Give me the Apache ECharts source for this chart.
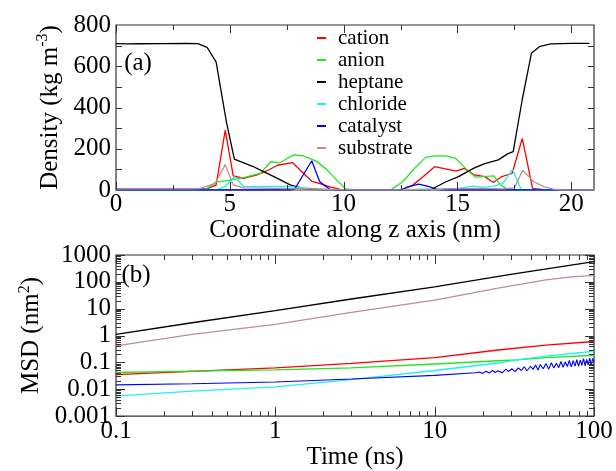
<!DOCTYPE html>
<html>
<head>
<meta charset="UTF-8">
<title>density and MSD</title>
<script src="https://cdn.jsdelivr.net/npm/echarts@6/dist/echarts.min.js"></script>
<style>
  html, body { margin: 0; padding: 0; background: #fff; }
  #main { width: 616px; height: 471px; }
</style>
</head>
<body>
<div id="main"></div>
<script type="text/javascript">
// (a) density profiles, [z (nm), density (kg m^-3)]
var cation = [[0,5],[4.0,5],[4.4,25],[4.8,290],[5.15,68],[5.6,57],[6.2,73],[6.7,97],[7.1,120],[7.75,133],[8.2,85],[8.6,42],[9.0,30],[9.4,15],[9.9,2],[10.5,0],[12.5,0],[13.0,20],[13.5,65],[14.0,113],[14.95,92],[15.3,105],[15.75,73],[16.2,65],[16.58,36],[16.95,65],[17.4,80],[17.85,250],[18.3,8],[18.8,2],[21,0]];
var anion = [[0,0],[3.9,0],[4.0,8],[4.42,38],[5.0,48],[5.7,62],[6.35,82],[6.8,137],[7.2,132],[7.8,170],[8.2,167],[8.8,140],[9.25,100],[9.7,48],[10.1,5],[10.5,0],[11.8,0],[12.1,3],[12.6,40],[13.05,97],[13.6,158],[14.0,165],[14.5,165],[14.9,155],[15.4,100],[15.8,62],[16.6,68],[16.9,24],[17.2,3],[17.5,0],[21,0]];
var heptane = [[0,710],[0.5,708],[1,709],[2,710],[3,711],[3.6,710],[4.0,692],[4.4,620],[4.85,330],[5.2,150],[6.0,115],[6.6,83],[7.2,50],[7.65,25],[8.2,8],[9,2],[10,0],[13.8,0],[14.5,40],[15.05,65],[15.7,105],[16.2,128],[16.8,146],[17.2,175],[17.45,186],[17.85,440],[18.25,663],[18.6,695],[19.1,708],[20,711],[20.8,711]];
var chloride = [[0,0],[4.4,0],[4.8,18],[5.2,65],[5.6,18],[5.9,16],[6.5,18],[7.0,17],[7.5,18],[8.3,10],[9.0,4],[9.5,0],[12.4,0],[13,3],[14,5],[15,8],[15.7,19],[16.1,13],[16.6,19],[17.0,32],[17.42,100],[17.8,2],[18.2,0],[21,0]];
var catalyst = [[0,0],[7.7,0],[7.85,5],[8.6,142],[8.95,40],[9.4,3],[9.8,0],[12.5,0],[12.85,16],[13.3,28],[13.8,15],[14.1,2],[14.5,0],[21,0]];
var substrate = [[0,5],[3.5,5],[3.7,8],[4.35,32],[4.8,123],[5.15,25],[5.6,10],[7,8],[8.5,6],[9.5,3],[10.5,0],[14,0],[14.5,5],[16,8],[17,5],[17.5,10],[17.87,95],[18.35,40],[18.8,16],[19.2,4],[19.7,0],[21,0]];

// (b) MSD, [time (ns), MSD (nm^2)]
var msdHeptane = [[0.1,1.1],[0.3,3.0],[1,8.5],[3,23],[10,65],[30,190],[100,570]];
var msdSubstrate = [[0.1,0.41],[0.3,1.1],[1,2.6],[3,7.3],[10,21],[25,58],[50,118],[70,150],[100,175]];
var msdCation = [[0.1,0.035],[0.3,0.046],[1,0.062],[3,0.092],[10,0.15],[25,0.29],[50,0.44],[100,0.6]];
var msdAnion = [[0.1,0.042],[0.3,0.047],[1,0.053],[3,0.062],[10,0.087],[25,0.115],[33,0.125],[50,0.15],[100,0.185]];
var msdChloride = [[0.1,0.0055],[0.3,0.0085],[1,0.0123],[3,0.023],[10,0.05],[25,0.095],[33,0.125],[50,0.17],[100,0.26]];
var msdCatalyst = [[0.1,0.0145],[0.3,0.016],[1,0.0187],[3,0.024],[10,0.033],[18,0.041],[19,0.044],[20,0.039],[21,0.047],[22,0.04],[23,0.05],[24,0.042],[25,0.049],[26.5,0.041],[28,0.056],[29,0.046],[30.5,0.058],[32,0.045],[33.5,0.063],[35,0.05],[36.5,0.068],[38,0.049],[40,0.072],[41.5,0.055],[43,0.08],[44.5,0.052],[46,0.083],[48,0.058],[50,0.09],[52,0.056],[54,0.097],[56,0.062],[58,0.093],[60,0.063],[62,0.108],[64,0.066],[66,0.104],[68,0.07],[70,0.118],[72,0.068],[74,0.115],[76,0.073],[78,0.128],[80,0.071],[82,0.122],[84,0.078],[86,0.138],[88,0.074],[90,0.13],[92,0.08],[94,0.145],[96,0.078],[98,0.14],[100,0.1]];

// ticks and labels
var zMajor = [0,5,10,15,20];
var zMinor = [2.5,7.5,12.5,17.5];
var densLabels = [0,200,400,600,800];
var densTicks = [100,200,300,400,500,600,700];
var tMajor = [0.1,1,10,100];
var tMinor = [0.2,0.3,0.4,0.5,0.6,0.7,0.8,0.9,2,3,4,5,6,7,8,9,20,30,40,50,60,70,80,90];
var msdMajor = [0.001,0.01,0.1,1,10,100,1000];
var msdMinor = [];
[0.001,0.01,0.1,1,10,100].forEach(function (d) {
    for (var k = 2; k <= 9; k++) msdMinor.push(+(d * k).toPrecision(3));
});

var FONT = 'Liberation Serif';
var colors = {cation:'#ff0000', anion:'#22e622', heptane:'#000000', chloride:'#22f0f0', catalyst:'#0000ff', substrate:'#bc8f8f'};
var nameStyle = {
    fontFamily: FONT, fontSize: 25, color: '#000',
    rich: {sup: {fontFamily: FONT, fontSize: 16, color: '#000', padding: [0, 0, 14, 0]}}
};

// axis with labels and title only; the frame is the grid border, ticks come from custom series
function labelAxis(grid, type, min, max, values, margin, name, gap) {
    var ax = {
        gridIndex: grid, type: type, min: min, max: max,
        axisLine: {show: false},
        splitLine: {show: false},
        axisTick: {show: false},
        axisLabel: {show: true, customValues: values, margin: margin, fontFamily: FONT, fontSize: 25, color: '#000',
            formatter: function (v) { return String(v); }},
        name: name, nameLocation: 'middle', nameGap: gap, nameTextStyle: nameStyle
    };
    if (type === 'log') ax.logBase = 10;
    return ax;
}

function line(name, data, color, grid, width) {
    return {
        name: name, type: 'line', data: data,
        xAxisIndex: grid, yAxisIndex: grid,
        symbol: 'none', showSymbol: false,
        lineStyle: {color: color, width: width || 1.3},
        itemStyle: {color: color},
        z: 3
    };
}

function snap(p) { return Math.round(p) + 0.5; }
function tickSeg(x1, y1, x2, y2) {
    return {type: 'line', shape: {x1: x1, y1: y1, x2: x2, y2: y2}, style: {stroke: '#333', lineWidth: 1}};
}
// inward ticks on both opposite sides of the frame; dir 'x' => items [value, lo, len], dir 'y' => [lo, value, len]
function tickSeries(grid, dir, values, len, lo, hi) {
    var data = values.map(function (v) { return dir === 'x' ? [v, lo, len] : [lo, v, len]; });
    return {
        type: 'custom', name: 'ticks', silent: true, z: 10,
        xAxisIndex: grid, yAxisIndex: grid,
        encode: {x: 0, y: 1},
        data: data,
        renderItem: function (params, api) {
            var L = api.value(2);
            if (dir === 'x') {
                var v = api.value(0);
                var b = api.coord([v, lo]), t = api.coord([v, hi]);
                var x = snap(b[0]);
                return {type: 'group', children: [tickSeg(x, b[1], x, b[1] - L), tickSeg(x, t[1], x, t[1] + L)]};
            }
            var w = api.value(1);
            var l = api.coord([lo, w]), r = api.coord([hi, w]);
            var y = snap(l[1]);
            return {type: 'group', children: [tickSeg(l[0], y, l[0] + L, y), tickSeg(r[0], y, r[0] - L, y)]};
        }
    };
}

var myChart = echarts.init(document.getElementById('main'), null, {renderer: 'canvas'});
var option = {
    animation: false,
    backgroundColor: '#fff',
    grid: [
        {left: 116, top: 25, width: 478, height: 165, show: true, borderColor: '#333', borderWidth: 1.2, backgroundColor: 'transparent'},
        {left: 116, top: 255, width: 478, height: 165, show: true, borderColor: '#333', borderWidth: 1.2, backgroundColor: 'transparent'}
    ],
    legend: {
        orient: 'vertical', left: 317, top: 27, padding: 0, itemGap: 0,
        itemWidth: 9, itemHeight: 2, icon: 'rect',
        data: ['cation', 'anion', 'heptane', 'chloride', 'catalyst', 'substrate'],
        textStyle: {fontFamily: FONT, fontSize: 21, lineHeight: 22, color: '#000', padding: [0, 0, 0, 7]}
    },
    xAxis: [
        labelAxis(0, 'value', 0, 21, zMajor, 2, 'Coordinate along z axis (nm)', 27),
        labelAxis(1, 'log', 0.1, 100, tMajor, 3, 'Time (ns)', 14)
    ],
    yAxis: [
        labelAxis(0, 'value', 0, 800, densLabels, 5, 'Density (kg m{sup|-3})', 51),
        labelAxis(1, 'log', 0.001, 1000, msdMajor, 5, 'MSD (nm{sup|2})', 68)
    ],
    graphic: [
        {type: 'text', x: 138, y: 63, style: {text: '(a)', font: '25px "Liberation Serif"', fill: '#000', textAlign: 'center', textVerticalAlign: 'middle'}},
        {type: 'text', x: 136, y: 275, style: {text: '(b)', font: '25px "Liberation Serif"', fill: '#000', textAlign: 'center', textVerticalAlign: 'middle'}}
    ],
    series: [
        line('cation', cation, colors.cation, 0),
        line('anion', anion, colors.anion, 0),
        line('heptane', heptane, colors.heptane, 0),
        line('chloride', chloride, colors.chloride, 0),
        line('catalyst', catalyst, colors.catalyst, 0),
        line('substrate', substrate, colors.substrate, 0),
        line('MSD heptane', msdHeptane, colors.heptane, 1),
        line('MSD substrate', msdSubstrate, colors.substrate, 1),
        line('MSD cation', msdCation, colors.cation, 1),
        line('MSD anion', msdAnion, colors.anion, 1),
        line('MSD chloride', msdChloride, colors.chloride, 1),
        line('MSD catalyst', msdCatalyst, colors.catalyst, 1, 1.1),
        tickSeries(0, 'x', zMajor, 8, 0, 800),
        tickSeries(0, 'x', zMinor, 5, 0, 800),
        tickSeries(0, 'y', densTicks, 6, 0, 21),
        tickSeries(1, 'x', tMajor, 9, 0.001, 1000),
        tickSeries(1, 'x', tMinor, 5, 0.001, 1000),
        tickSeries(1, 'y', msdMajor, 9, 0.1, 100),
        tickSeries(1, 'y', msdMinor, 5, 0.1, 100)
    ]
};
myChart.setOption(option);
</script>
</body>
</html>
